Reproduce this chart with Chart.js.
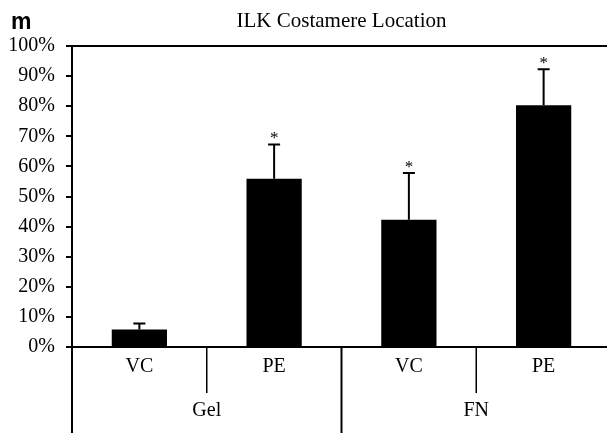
<!DOCTYPE html>
<html>
<head>
<meta charset="utf-8">
<script src="https://cdn.jsdelivr.net/npm/chart.js@4/dist/chart.umd.min.js"></script>
<style>
  body { margin: 0; overflow: hidden; background: #fff; }
  #wrap { position: relative; width: 612px; height: 433px; }
  #panel { position: absolute; left: 11px; top: 8px; font: bold 23px "Liberation Sans", Arial, sans-serif; color: #000; }
</style>
</head>
<body>
<div id="wrap">
  <canvas id="chart" width="612" height="433"></canvas>
  <div id="panel">m</div>
</div>
<script>
// --- donnees ---
const categories = ["VC", "PE", "VC", "PE"];
const groups = ["Gel", "FN"];
const means = [5.8, 55.9, 42.3, 80.3];
const errors = [2.0, 11.4, 15.5, 12.0];
const significant = [false, true, true, true];
const titleText = "ILK Costamere Location";

const serif = "'Liberation Serif', 'Times New Roman', serif";

// titre centre sur la zone du graphique
const plotTitle = {
    id: "plotTitle",
    afterDraw(chart) {
        const ctx = chart.ctx;
        const area = chart.chartArea;
        ctx.save();
        ctx.fillStyle = "#000";
        ctx.font = "21px " + serif;
        ctx.textAlign = "center";
        ctx.textBaseline = "middle";
        ctx.fillText(titleText, (area.left + area.right) / 2, 21);
        ctx.restore();
    }
};

// barres d'erreur + asterisques
const errorBars = {
    id: "errorBars",
    afterDatasetsDraw(chart) {
        const ctx = chart.ctx;
        const y = chart.scales.y;
        const meta = chart.getDatasetMeta(0);
        ctx.save();
        ctx.strokeStyle = "#000";
        ctx.lineWidth = 2;
        meta.data.forEach((bar, i) => {
            const top = y.getPixelForValue(means[i] + errors[i]);
            ctx.beginPath();
            ctx.moveTo(bar.x, bar.y);
            ctx.lineTo(bar.x, top);
            ctx.moveTo(bar.x - 6, top);
            ctx.lineTo(bar.x + 6, top);
            ctx.stroke();
            if (significant[i]) {
                ctx.fillStyle = "#000";
                ctx.font = "17px " + serif;
                ctx.textAlign = "center";
                ctx.textBaseline = "alphabetic";
                ctx.fillText("*", bar.x, top - 1);
            }
        });
        ctx.restore();
    }
};

// axe des groupes (Gel / FN) sous les categories
const groupAxis = {
    id: "groupAxis",
    afterDraw(chart) {
        const ctx = chart.ctx;
        const x = chart.scales.x;
        const area = chart.chartArea;
        const h = chart.height;
        ctx.save();
        ctx.strokeStyle = "#000";
        ctx.lineWidth = 2;
        // prolongement de l'axe y
        ctx.beginPath();
        ctx.moveTo(area.left, area.bottom);
        ctx.lineTo(area.left, h);
        ctx.stroke();
        // separation entre les groupes
        const mid = x.getPixelForValue(1.5);
        ctx.beginPath();
        ctx.moveTo(mid, area.bottom);
        ctx.lineTo(mid, h);
        ctx.stroke();
        ctx.lineWidth = 1.5;
        ctx.fillStyle = "#000";
        ctx.font = "20px " + serif;
        ctx.textAlign = "center";
        ctx.textBaseline = "middle";
        groups.forEach((g, k) => {
            const gx = x.getPixelForValue(k * 2 + 0.5);
            ctx.beginPath();
            ctx.moveTo(gx, area.bottom);
            ctx.lineTo(gx, area.bottom + 46);
            ctx.stroke();
            ctx.fillText(g, gx, area.bottom + 64);
        });
        ctx.restore();
    }
};

new Chart(document.getElementById("chart"), {
    type: "bar",
    data: {
        labels: categories,
        datasets: [{
            data: means,
            backgroundColor: "#000",
            borderColor: "#000",
            barPercentage: 0.41,
            categoryPercentage: 1
        }]
    },
    options: {
        responsive: false,
        animation: false,
        layout: { padding: { left: 0, right: 1, top: 46, bottom: 54 } },
        plugins: {
            legend: { display: false },
            tooltip: { enabled: false },
            title: { display: false }
        },
        scales: {
            x: {
                grid: { display: false },
                border: { display: true, color: "#000", width: 2 },
                ticks: { color: "#000", font: { family: serif, size: 20 }, padding: 0 }
            },
            y: {
                min: 0,
                max: 100,
                afterFit(scale) { scale.width = 72; },
                grid: {
                    color: c => c.tick && c.tick.value === 100 ? "#000" : "rgba(0,0,0,0)",
                    lineWidth: 2,
                    drawTicks: true,
                    tickLength: 6,
                    tickColor: "#000",
                    tickWidth: 2
                },
                border: { display: true, color: "#000", width: 2 },
                ticks: {
                    stepSize: 10,
                    color: "#000",
                    padding: 11,
                    font: { family: serif, size: 20 },
                    callback: v => v + "%"
                }
            }
        }
    },
    plugins: [plotTitle, errorBars, groupAxis]
});
</script>
</body>
</html>
